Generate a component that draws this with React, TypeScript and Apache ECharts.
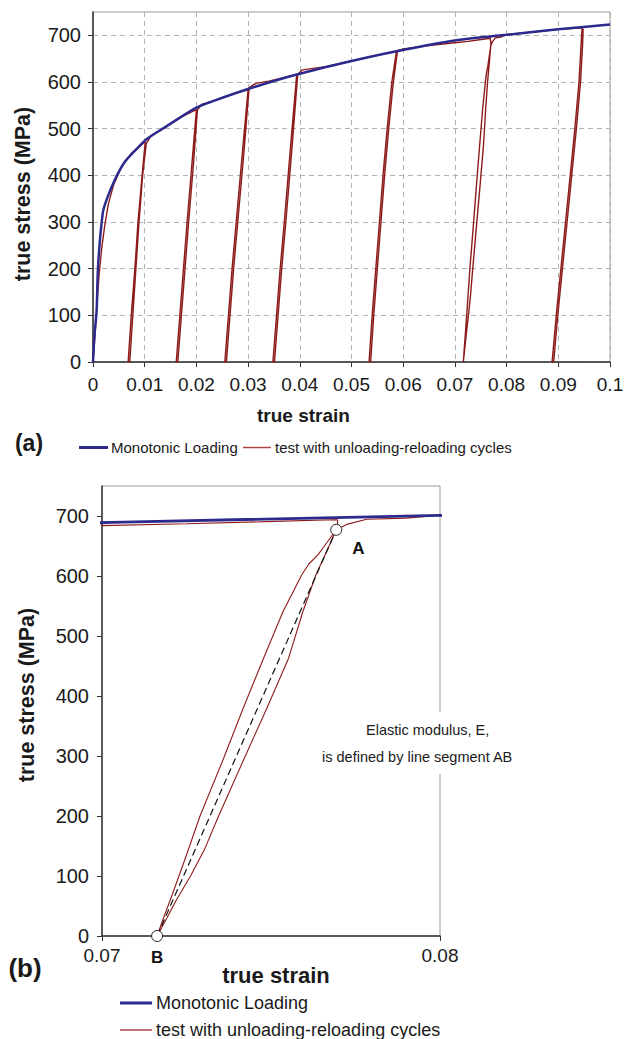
import React, { useEffect, useRef } from 'react';
import * as echarts from 'echarts';

const FONT = "'Liberation Sans', Arial, Helvetica, sans-serif";
const BLUE = '#2D2A8E';
const RED = '#8E1B1B';
const TXT = '#1a1a1a';

// ---------- data ----------
const yTicks = [0, 100, 200, 300, 400, 500, 600, 700];
const seriesNames = ['Monotonic Loading', 'test with unloading-reloading cycles'];

// monotonic loading curve: [true strain, true stress (MPa)]
const monotonic = [
  [0, 0], [0.0003, 60], [0.0007, 110], [0.001, 210], [0.0019, 320], [0.0026, 347],
  [0.0042, 390], [0.0061, 428], [0.0084, 456], [0.0103, 477], [0.0142, 505],
  [0.02, 545], [0.0232, 559], [0.03, 585], [0.0394, 616], [0.05, 645],
  [0.0587, 666], [0.0703, 689.5], [0.08, 701], [0.09, 713], [0.1, 723],
];

// test with unloading-reloading cycles
const testCurve = [
  [0, 0], [0.0004, 60], [0.0008, 130], [0.0012, 190], [0.0017, 245], [0.0023, 295],
  [0.003, 340], [0.004, 380], [0.0055, 418], [0.0075, 448], [0.0101, 472],
  // cycle 1
  [0.0095, 400], [0.0087, 300], [0.0081, 200], [0.0074, 100], [0.0068, 0],
  [0.0071, 0], [0.0077, 100], [0.0083, 200], [0.0089, 300], [0.0096, 400], [0.0103, 468],
  [0.0112, 484], [0.0142, 505], [0.0172, 526], [0.02, 541],
  // cycle 2
  [0.0191, 420], [0.0182, 300], [0.0175, 200], [0.0168, 100], [0.0161, 0],
  [0.0164, 0], [0.0171, 100], [0.0178, 200], [0.0185, 300], [0.0194, 420], [0.0202, 540],
  [0.021, 552], [0.0235, 560], [0.027, 574], [0.03, 584],
  // cycle 3
  [0.0289, 450], [0.0277, 300], [0.0269, 200], [0.0262, 100], [0.0255, 0],
  [0.0258, 0], [0.0265, 100], [0.0272, 200], [0.028, 300], [0.0292, 450], [0.0302, 588],
  [0.0315, 597], [0.034, 602], [0.037, 610], [0.0394, 616],
  // cycle 4
  [0.0382, 460], [0.037, 300], [0.0362, 200], [0.0355, 100], [0.0348, 0],
  [0.0351, 0], [0.0358, 100], [0.0365, 200], [0.0373, 300], [0.0385, 460], [0.0396, 616],
  [0.0405, 626], [0.045, 633], [0.05, 645], [0.055, 657], [0.0587, 666],
  // cycle 5
  [0.0578, 600], [0.0569, 500], [0.0561, 400], [0.0554, 300], [0.0547, 200], [0.054, 100], [0.0534, 0],
  [0.0537, 0], [0.0543, 100], [0.055, 200], [0.0557, 300], [0.0564, 400], [0.0572, 500], [0.0581, 600],
  [0.0589, 667], [0.06, 671], [0.065, 678], [0.07, 684], [0.0725, 687], [0.0751, 691],
  [0.07684, 693.8], [0.07697, 693.5],
  // cycle 6 (shown in detail in panel b): unloading branch
  [0.07697, 681], [0.07693, 677], [0.07672, 650], [0.07633, 602], [0.07594, 540], [0.07552, 463],
  [0.07488, 380], [0.0742, 295], [0.07345, 200], [0.07303, 144], [0.07262, 100], [0.0722, 60],
  [0.07192, 30], [0.07163, 0],
  // cycle 6: reloading branch
  [0.07182, 30], [0.07202, 60], [0.07245, 127], [0.0729, 200], [0.07359, 295], [0.07418, 380],
  [0.07478, 463], [0.07535, 540], [0.07591, 602], [0.07612, 620], [0.0764, 636], [0.07658, 650],
  [0.07693, 677], [0.07724, 686], [0.07783, 694.5], [0.079, 696.5], [0.08, 701.5],
  [0.085, 707], [0.09, 713], [0.0946, 716],
  // cycle 7
  [0.0944, 680], [0.094, 600], [0.0932, 500], [0.0923, 400], [0.0914, 300], [0.0905, 200],
  [0.0896, 100], [0.0888, 0],
  [0.0891, 0], [0.0899, 100], [0.0908, 200], [0.0917, 300], [0.0926, 400], [0.0935, 500],
  [0.0943, 600], [0.0947, 680], [0.0948, 714],
];

// points A and B and the elastic segment AB
const pointA = [0.07693, 677];
const pointB = [0.07163, 0];
const segmentAB = [pointB, pointA];

// ---------- option ----------
function buildOption() {
  const yFormatter = (v: number) => (yTicks.indexOf(v) >= 0 ? String(v) : '');
  const xFmt = (v: number) => String(Number(v.toFixed(3)));
  const axisLineDark = { show: true, lineStyle: { color: '#333', width: 1.5 } };
  const tickOut = { show: true, inside: false, length: 5, lineStyle: { color: '#333', width: 1 } };
  const dashed = { show: true, lineStyle: { color: '#b3b3b3', type: [5, 4], width: 1 } };

  return {
    animation: false,
    backgroundColor: '#ffffff',
    textStyle: { fontFamily: FONT },
    grid: [
      { left: 93, top: 12, width: 517, height: 350, show: true, borderColor: '#9a9a9a', borderWidth: 1, backgroundColor: 'transparent' },
      { left: 102, top: 486, width: 338, height: 450, show: true, borderColor: '#9a9a9a', borderWidth: 1, backgroundColor: 'transparent' },
    ],
    xAxis: [
      {
        type: 'value', gridIndex: 0, min: 0, max: 0.1, interval: 0.01,
        axisLine: axisLineDark, axisTick: tickOut, splitLine: dashed,
        axisLabel: { fontSize: 19, color: TXT, margin: 13, fontFamily: FONT, formatter: xFmt },
      },
      {
        type: 'value', gridIndex: 1, min: 0.07, max: 0.08, interval: 0.01,
        axisLine: axisLineDark, axisTick: tickOut, splitLine: { show: false },
        axisLabel: { fontSize: 19, color: TXT, margin: 10, fontFamily: FONT, formatter: (v: number) => v.toFixed(2) },
      },
    ],
    yAxis: [
      {
        type: 'value', gridIndex: 0, min: 0, max: 750, interval: 100,
        axisLine: axisLineDark,
        axisTick: { ...tickOut, customValues: yTicks },
        splitLine: dashed,
        axisLabel: { fontSize: 20, color: TXT, margin: 12, fontFamily: FONT, customValues: yTicks, formatter: yFormatter },
      },
      {
        type: 'value', gridIndex: 1, min: 0, max: 750, interval: 100,
        axisLine: axisLineDark,
        axisTick: { ...tickOut, customValues: yTicks },
        splitLine: { show: false },
        axisLabel: { fontSize: 20, color: TXT, margin: 13, fontFamily: FONT, customValues: yTicks, formatter: yFormatter },
      },
    ],
    series: [
      {
        type: 'line', name: seriesNames[1], xAxisIndex: 0, yAxisIndex: 0, data: testCurve,
        symbol: 'none', showSymbol: false, lineStyle: { color: RED, width: 1.4 }, z: 2,
      },
      {
        type: 'line', name: seriesNames[0], xAxisIndex: 0, yAxisIndex: 0, data: monotonic,
        symbol: 'none', showSymbol: false, smooth: 0.3, lineStyle: { color: BLUE, width: 2.5 }, z: 3,
      },
      {
        type: 'line', name: seriesNames[1], xAxisIndex: 1, yAxisIndex: 1, data: testCurve,
        symbol: 'none', showSymbol: false, lineStyle: { color: RED, width: 1.1 }, z: 2,
      },
      {
        type: 'line', name: seriesNames[0], xAxisIndex: 1, yAxisIndex: 1, data: monotonic,
        symbol: 'none', showSymbol: false, lineStyle: { color: BLUE, width: 2.8 }, z: 3,
      },
      {
        type: 'line', name: 'AB', xAxisIndex: 1, yAxisIndex: 1, data: segmentAB,
        symbol: 'none', showSymbol: false, lineStyle: { color: '#111', width: 1.2, type: [7, 4] }, z: 4,
      },
      {
        type: 'scatter', name: 'points', xAxisIndex: 1, yAxisIndex: 1, clip: false, z: 5,
        symbol: 'circle', symbolSize: 11,
        itemStyle: { color: '#ffffff', borderColor: '#222', borderWidth: 1, opacity: 1 },
        data: [
          { value: pointA, label: { show: true, formatter: 'A', position: 'right', distance: 5, offset: [5, 19], fontSize: 17, fontWeight: 'bold', color: '#111', fontFamily: FONT } },
          { value: pointB, label: { show: true, formatter: 'B', position: 'bottom', distance: 5, offset: [0, 2], fontSize: 17, fontWeight: 'bold', color: '#111', fontFamily: FONT } },
        ],
      },
    ],
    graphic: [
      // axis titles
      { type: 'text', x: 22.5, y: 194, rotation: Math.PI / 2, z: 100,
        style: { text: 'true stress (MPa)', font: `bold 21.5px ${FONT}`, fill: TXT, textAlign: 'center', textVerticalAlign: 'middle' } },
      { type: 'text', x: 303.5, y: 415, z: 100,
        style: { text: 'true strain', font: `bold 19px ${FONT}`, fill: TXT, textAlign: 'center', textVerticalAlign: 'middle' } },
      { type: 'text', x: 29, y: 443, z: 100,
        style: { text: '(a)', font: `bold 23px ${FONT}`, fill: TXT, textAlign: 'center', textVerticalAlign: 'middle' } },
      // legend a
      { type: 'line', z: 100, shape: { x1: 79, y1: 447.5, x2: 108, y2: 447.5 }, style: { stroke: BLUE, lineWidth: 3 } },
      { type: 'text', x: 111, y: 447.5, z: 100,
        style: { text: seriesNames[0], font: `15px ${FONT}`, fill: TXT, textAlign: 'left', textVerticalAlign: 'middle' } },
      { type: 'line', z: 100, shape: { x1: 243, y1: 447.5, x2: 271, y2: 447.5 }, style: { stroke: '#B04545', lineWidth: 1.5 } },
      { type: 'text', x: 275, y: 447.5, z: 100,
        style: { text: seriesNames[1], font: `15px ${FONT}`, fill: TXT, textAlign: 'left', textVerticalAlign: 'middle' } },

      // panel b titles
      { type: 'text', x: 26.5, y: 695, rotation: Math.PI / 2, z: 100,
        style: { text: 'true stress (MPa)', font: `bold 21.5px ${FONT}`, fill: TXT, textAlign: 'center', textVerticalAlign: 'middle' } },
      { type: 'text', x: 276, y: 975, z: 100,
        style: { text: 'true strain', font: `bold 22px ${FONT}`, fill: TXT, textAlign: 'center', textVerticalAlign: 'middle' } },
      { type: 'text', x: 25, y: 968, z: 100,
        style: { text: '(b)', font: `bold 26px ${FONT}`, fill: TXT, textAlign: 'center', textVerticalAlign: 'middle' } },
      // legend b
      { type: 'line', z: 100, shape: { x1: 120, y1: 1003, x2: 152, y2: 1003 }, style: { stroke: BLUE, lineWidth: 3 } },
      { type: 'text', x: 156, y: 1003, z: 100,
        style: { text: seriesNames[0], font: `18px ${FONT}`, fill: TXT, textAlign: 'left', textVerticalAlign: 'middle' } },
      { type: 'line', z: 100, shape: { x1: 120, y1: 1030, x2: 152, y2: 1030 }, style: { stroke: '#B04545', lineWidth: 1.5 } },
      { type: 'text', x: 156, y: 1030, z: 100,
        style: { text: seriesNames[1], font: `18px ${FONT}`, fill: TXT, textAlign: 'left', textVerticalAlign: 'middle' } },

      // annotation
      { type: 'rect', z: 99, shape: { x: 318, y: 712, width: 197, height: 62 }, style: { fill: '#ffffff' } },
      { type: 'text', x: 366, y: 730, z: 100,
        style: { text: 'Elastic modulus, E,', font: `14.5px ${FONT}`, fill: TXT, textAlign: 'left', textVerticalAlign: 'middle' } },
      { type: 'text', x: 322, y: 757, z: 100,
        style: { text: 'is defined by line segment AB', font: `14.5px ${FONT}`, fill: TXT, textAlign: 'left', textVerticalAlign: 'middle' } },
    ],
  };
}

export default function App() {
  const ref = useRef<HTMLDivElement>(null);
  useEffect(() => {
    document.body.style.margin = '0';
    const chart = echarts.init(ref.current as HTMLDivElement, null, { renderer: 'svg' });
    chart.setOption(buildOption() as any);
    return () => chart.dispose();
  }, []);
  return <div ref={ref} style={{ width: 627, height: 1039 }} />;
}
